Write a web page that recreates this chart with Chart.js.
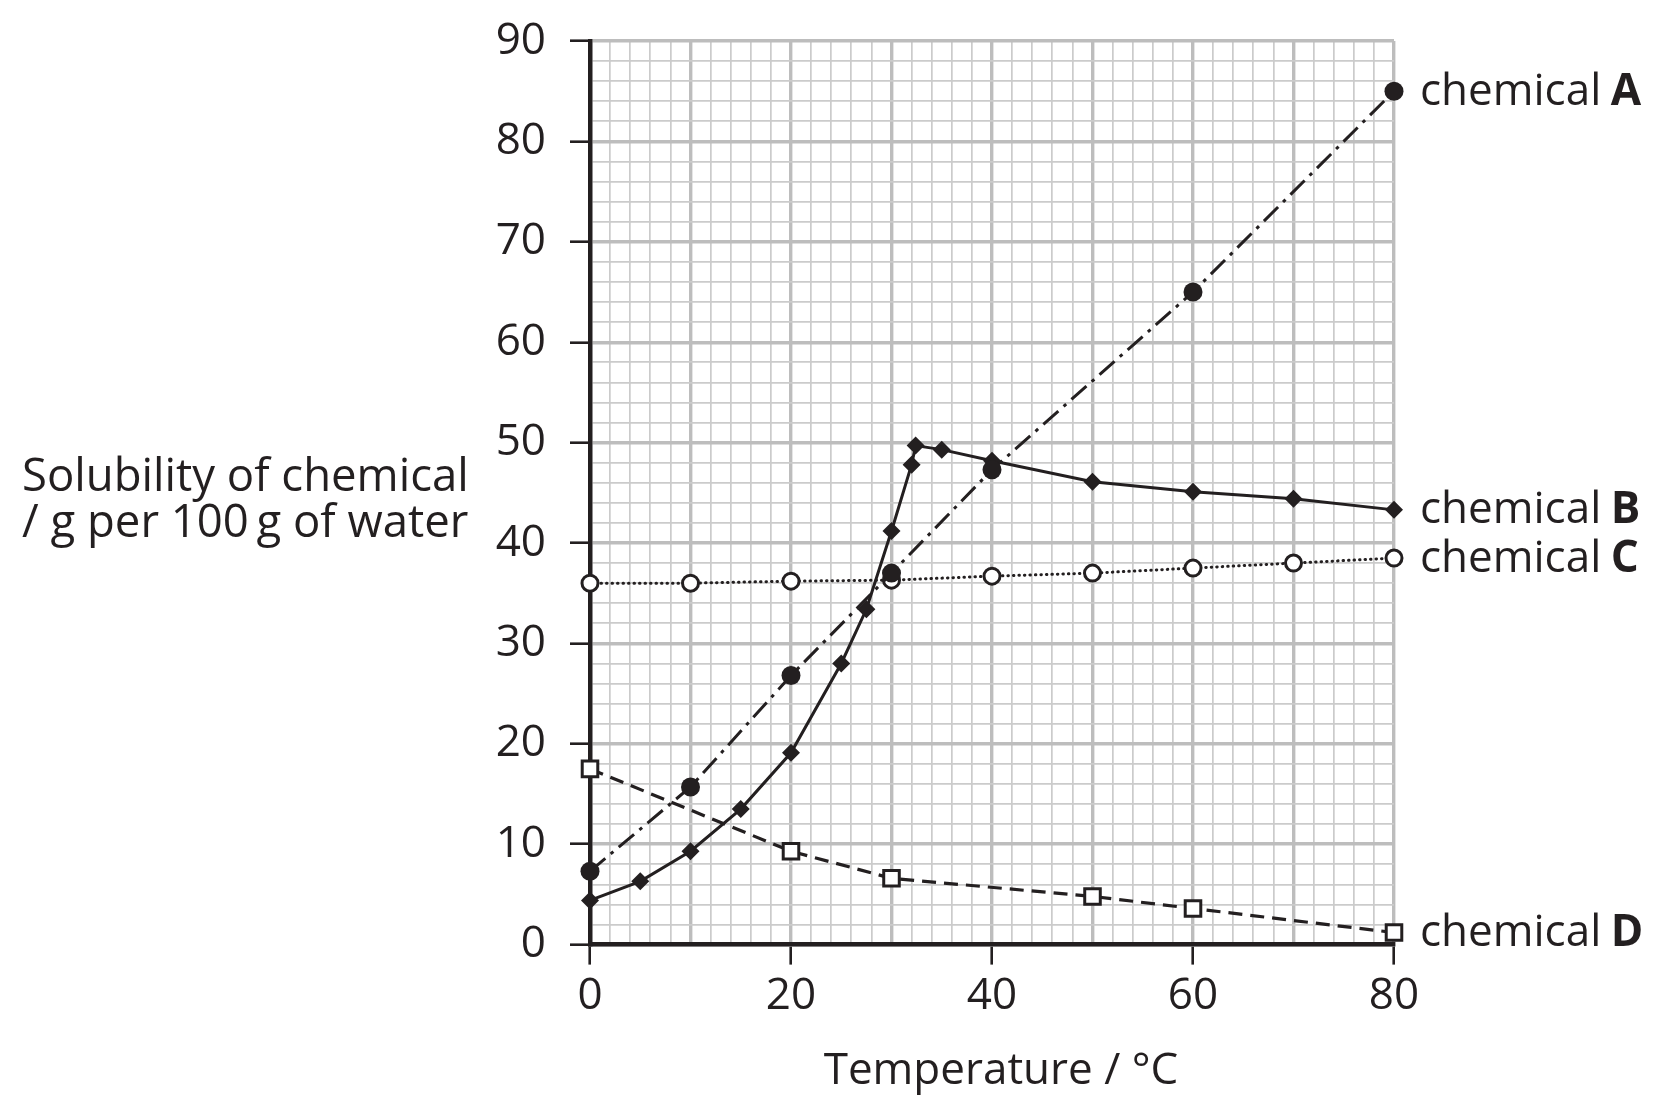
<!DOCTYPE html>
<html>
<head>
<meta charset="utf-8">
<title>Solubility of chemicals</title>
<script src="https://cdn.jsdelivr.net/npm/chart.js@4.4.1/dist/chart.umd.min.js"></script>
<style>
  html, body { margin: 0; padding: 0; background: #fff; }
</style>
</head>
<body>
<canvas id="solChart" width="1668" height="1112"></canvas>
<script>
// values (temperature in °C, solubility in g / 100 g water)
const tempA = [0, 10, 20, 30, 40, 60, 80];
const solA  = [7.3, 15.7, 26.8, 37.0, 47.3, 65.0, 85.0];

const tempB = [0, 5, 10, 15, 20, 25, 27.5, 30, 32, 32.4, 35, 40, 50, 60, 70, 80];
const solB  = [4.4, 6.3, 9.3, 13.5, 19.1, 28.0, 33.4, 41.2, 47.8, 49.7, 49.3, 48.2, 46.1, 45.1, 44.4, 43.3];

const tempC = [0, 10, 20, 30, 40, 50, 60, 70, 80];
const solC  = [36.0, 36.0, 36.2, 36.3, 36.7, 37.0, 37.5, 38.0, 38.5];

const tempD = [0, 20, 30, 50, 60, 80];
const solD  = [17.5, 9.3, 6.6, 4.8, 3.6, 1.2];

const seriesLetters = ['A', 'B', 'C', 'D'];
const yTitleLines = ['Solubility of chemical', '/ g per 100\u2009g of water'];
const xTitle = 'Temperature / °C';

const INK = '#231f20';
const FONT = '"Open Sans"';
const FS = 44;

const toPoints = (xs, ys) => xs.map((x, i) => ({ x: x, y: ys[i] }));

// right-hand "chemical X" labels and the two axis titles
const sideLabels = {
  id: 'sideLabels',
  afterDatasetsDraw(chart) {
    const { ctx, chartArea, scales: { y } } = chart;
    ctx.save();
    ctx.fillStyle = INK;
    ctx.textAlign = 'left';
    ctx.textBaseline = 'middle';
    chart.data.datasets.forEach((ds, i) => {
      const last = ds.data[ds.data.length - 1];
      const px = chartArea.right + 26;
      const py = y.getPixelForValue(last.y) + 1;
      ctx.font = `${FS}px ${FONT}`;
      const pre = 'chemical ';
      ctx.fillText(pre, px, py);
      const w = ctx.measureText(pre).width;
      ctx.font = `bold ${FS}px ${FONT}`;
      ctx.fillText(seriesLetters[i], px + w - 2, py);
    });

    // y title sits horizontally, left of the tick labels
    ctx.font = `45.5px ${FONT}`;
    ctx.textBaseline = 'alphabetic';
    ctx.fillText(yTitleLines[0], 22, 491);
    ctx.fillText(yTitleLines[1], 22, 537);

    // x title, a touch right of the plot centre as in the original
    ctx.font = `${FS}px ${FONT}`;
    ctx.textAlign = 'center';
    ctx.fillText(xTitle, (chartArea.left + chartArea.right) / 2 + 9, 1084);
    ctx.restore();
  }
};

const gridColor = ctx => (ctx.tick.value % 10 === 0 ? '#bdbdbd' : '#cbcbcb');
const gridWidth = ctx => (ctx.tick.value % 10 === 0 ? 3.4 : 1.7);

const chart = new Chart(document.getElementById('solChart'), {
  type: 'scatter',
  data: {
    datasets: [
      {
        label: 'A',
        data: toPoints(tempA, solA),
        showLine: true,
        borderColor: INK,
        borderWidth: 3,
        borderDash: [20, 7, 3.5, 7],
        pointStyle: 'circle',
        pointRadius: 9.5,
        pointBackgroundColor: INK,
        pointBorderWidth: 0,
        clip: false
      },
      {
        label: 'B',
        data: toPoints(tempB, solB),
        showLine: true,
        borderColor: INK,
        borderWidth: 3,
        pointStyle: 'rectRot',
        pointRadius: 9,
        pointBackgroundColor: INK,
        pointBorderWidth: 0,
        clip: false
      },
      {
        label: 'C',
        data: toPoints(tempC, solC),
        showLine: true,
        borderColor: INK,
        borderWidth: 3,
        borderDash: [0.5, 5],
        borderCapStyle: 'round',
        pointStyle: 'circle',
        pointRadius: 8,
        pointBackgroundColor: '#ffffff',
        pointBorderColor: INK,
        pointBorderWidth: 3,
        clip: false
      },
      {
        label: 'D',
        data: toPoints(tempD, solD),
        showLine: true,
        borderColor: INK,
        borderWidth: 3.2,
        borderDash: [14, 8],
        pointStyle: 'rect',
        pointRadius: 11,
        pointBackgroundColor: '#ffffff',
        pointBorderColor: INK,
        pointBorderWidth: 3,
        clip: false
      }
    ]
  },
  options: {
    responsive: false,
    animation: false,
    devicePixelRatio: 1,
    events: [],
    layout: { padding: { left: 0, right: 274, top: 41, bottom: 0 } },
    plugins: {
      legend: { display: false },
      tooltip: { enabled: false }
    },
    scales: {
      x: {
        type: 'linear',
        min: 0,
        max: 80,
        afterFit: s => { s.height = 167.4; },
        ticks: {
          stepSize: 2,
          autoSkip: false,
          maxRotation: 0,
          padding: 5,
          color: INK,
          font: { family: FONT, size: FS },
          callback: v => (v % 20 === 0 ? String(v) : '')
        },
        grid: {
          color: gridColor,
          lineWidth: gridWidth,
          tickColor: ctx => (ctx.tick.value % 20 === 0 ? INK : 'rgba(0,0,0,0)'),
          tickLength: 20,
          tickWidth: 2.6
        },
        border: { color: INK, width: 4.5 }
      },
      y: {
        type: 'linear',
        min: 0,
        max: 90,
        afterFit: s => {
          s.width = 590;
          // don't let the label padding push the plot top down
          s.paddingTop = 0;
          s.paddingBottom = 0;
        },
        ticks: {
          stepSize: 2,
          autoSkip: false,
          padding: 24,
          color: INK,
          font: { family: FONT, size: FS },
          callback: v => (v % 10 === 0 ? String(v) : '')
        },
        grid: {
          color: gridColor,
          lineWidth: gridWidth,
          tickColor: ctx => (ctx.tick.value % 10 === 0 ? INK : 'rgba(0,0,0,0)'),
          tickLength: 20,
          tickWidth: 2.6
        },
        border: { color: INK, width: 4.5 }
      }
    }
  },
  plugins: [sideLabels]
});
</script>
</body>
</html>
